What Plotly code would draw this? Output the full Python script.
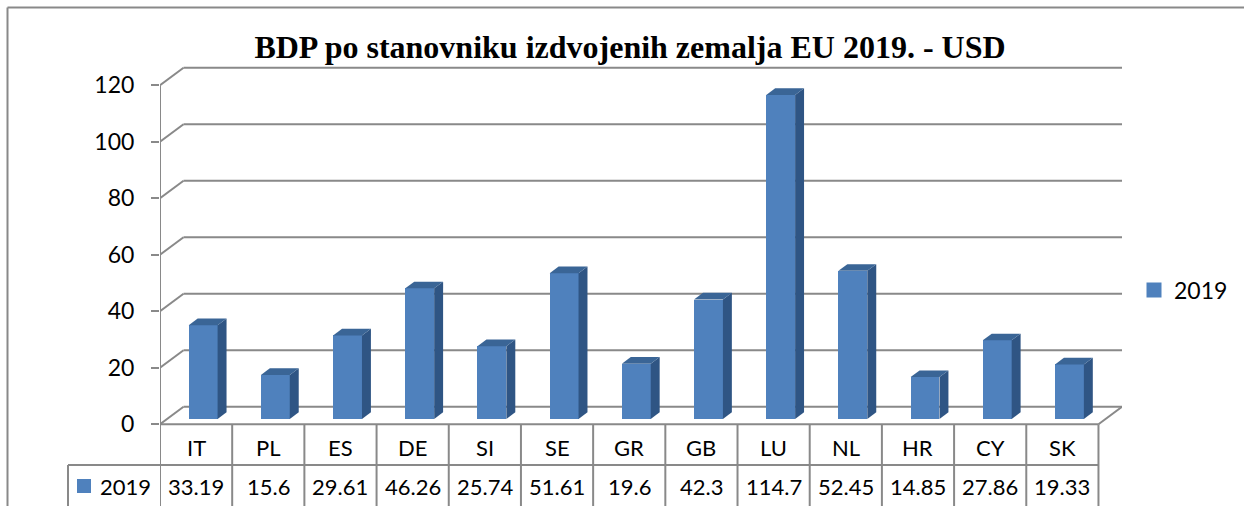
import plotly.graph_objects as go

# ---------------- data ----------------
title_text = "BDP po stanovniku izdvojenih zemalja EU 2019. - USD"
categories = ["IT", "PL", "ES", "DE", "SI", "SE", "GR", "GB", "LU", "NL", "HR", "CY", "SK"]
values_2019 = [33.19, 15.6, 29.61, 46.26, 25.74, 51.61, 19.6, 42.3, 114.7, 52.45, 14.85, 27.86, 19.33]
series_name = "2019"
y_ticks = [0, 20, 40, 60, 80, 100, 120]

# ---------------- geometry / style ----------------
W, H = 1244, 506
ML, MR, MT, MB = 160, 122, 60, 0
PW, PH = W - ML - MR, H - MT - MB
N = len(categories)
DX = 0.326          # depth of the 3D box (category units)
DY = 6.23           # depth of the 3D box (value units)
F0, F1 = 0.30, 0.68  # bar position inside depth
BAR_W = 0.40
XMIN, XMAX = -0.5, N - 0.5 + DX
YMIN, YMAX = -28.92, 128.96
ROW1 = -14.4        # separator between category row and value row

FRONT = "#4F81BD"
SIDE = "#2F5584"
TOP = "#3A6596"
GRID = "#898989"
FONT = "Lato"


def px_x(px):
    return (px - ML) / PW


def px_y(py):
    return (H - MB - py) / PH


def dx_to_paper(x):
    return (x - XMIN) / (XMAX - XMIN)


fig = go.Figure()

# front faces of the columns
fig.add_trace(go.Bar(
    x=[i + F0 * DX for i in range(N)],
    y=values_2019,
    base=F0 * DY,
    width=BAR_W,
    marker=dict(color=FRONT, line=dict(width=0)),
    showlegend=False,
    hoverinfo="skip",
))

# side and top faces
ddx = (F1 - F0) * DX
ddy = (F1 - F0) * DY
for i, v in enumerate(values_2019):
    xl = i + F0 * DX - BAR_W / 2
    xr = i + F0 * DX + BAR_W / 2
    b = F0 * DY
    t = b + v
    fig.add_trace(go.Scatter(
        x=[xr, xr + ddx, xr + ddx, xr, xr],
        y=[b, b + ddy, t + ddy, t, b],
        fill="toself", fillcolor=SIDE, mode="lines",
        line=dict(width=0, color=SIDE), showlegend=False, hoverinfo="skip"))
    fig.add_trace(go.Scatter(
        x=[xl, xl + ddx, xr + ddx, xr, xl],
        y=[t, t + ddy, t + ddy, t, t],
        fill="toself", fillcolor=TOP, mode="lines",
        line=dict(width=0, color=TOP), showlegend=False, hoverinfo="skip"))

# legend entry
fig.add_trace(go.Scatter(
    x=[None], y=[None], mode="markers", name=series_name,
    marker=dict(symbol="square", size=15, color=FRONT)))

shapes = []
ln = dict(color=GRID, width=2)
# back-wall gridlines + side-wall diagonals
for v in y_ticks:
    shapes.append(dict(type="line", xref="x", yref="y", x0=XMIN + DX, x1=N - 0.5 + DX,
                       y0=v + DY, y1=v + DY, line=ln, layer="below"))
    shapes.append(dict(type="line", xref="x", yref="y", x0=XMIN, x1=XMIN + DX,
                       y0=v, y1=v + DY, line=ln, layer="below"))
# floor right diagonal
shapes.append(dict(type="line", xref="x", yref="y", x0=N - 0.5, x1=N - 0.5 + DX,
                   y0=0, y1=DY, line=ln, layer="below"))
# front vertical axis line
shapes.append(dict(type="line", xref="x", yref="y", x0=XMIN, x1=XMIN,
                   y0=0, y1=y_ticks[-1], line=ln, layer="below"))
# data table
shapes.append(dict(type="line", xref="x", yref="y", x0=XMIN, x1=N - 0.5,
                   y0=0, y1=0, line=ln, layer="below"))
for k in range(N + 1):
    shapes.append(dict(type="line", xref="x", yref="y", x0=k - 0.5, x1=k - 0.5,
                       y0=0, y1=YMIN, line=ln, layer="below"))
row1_p = (ROW1 - YMIN) / (YMAX - YMIN)
shapes.append(dict(type="line", xref="paper", yref="paper", x0=px_x(68), x1=dx_to_paper(N - 0.5),
                   y0=row1_p, y1=row1_p, line=ln, layer="below"))
shapes.append(dict(type="line", xref="paper", yref="paper", x0=px_x(68), x1=px_x(68),
                   y0=row1_p, y1=0, line=ln, layer="below"))
# table legend key
shapes.append(dict(type="rect", xref="paper", yref="paper", x0=px_x(77), x1=px_x(91),
                   y0=px_y(493), y1=px_y(479), fillcolor=FRONT, line=dict(width=0)))
# outer chart border
shapes.append(dict(type="line", xref="paper", yref="paper", x0=px_x(7.5), x1=px_x(1260),
                   y0=px_y(7.5), y1=px_y(7.5), line=dict(color=GRID, width=2)))
shapes.append(dict(type="line", xref="paper", yref="paper", x0=px_x(7.5), x1=px_x(7.5),
                   y0=px_y(7.5), y1=px_y(520), line=dict(color=GRID, width=2)))

annotations = []
tf = dict(family=FONT, size=22, color="black")
for i, (c, v) in enumerate(zip(categories, values_2019)):
    annotations.append(dict(x=i, y=-8.2, xref="x", yref="y", text=c, showarrow=False,
                            font=tf, xanchor="center", yanchor="middle"))
    annotations.append(dict(x=i, y=-22.0, xref="x", yref="y", text=str(v), showarrow=False,
                            font=tf, xanchor="center", yanchor="middle"))
annotations.append(dict(x=px_x(98), y=px_y(486), xref="paper", yref="paper", text=series_name,
                        showarrow=False, font=tf, xanchor="left", yanchor="middle"))

fig.update_layout(
    width=W, height=H,
    margin=dict(l=ML, r=MR, t=MT, b=MB, pad=0),
    paper_bgcolor="white", plot_bgcolor="white",
    title=dict(text="<b>" + title_text + "</b>", x=630 / W, xanchor="center",
               y=1 - 47 / H, yanchor="middle",
               font=dict(family="Liberation Serif", size=32, color="black")),
    xaxis=dict(range=[XMIN, XMAX], visible=False, fixedrange=True),
    yaxis=dict(range=[YMIN, YMAX], tickvals=y_ticks, ticks="outside", ticklen=8, tickwidth=2,
               tickcolor=GRID, showgrid=False, zeroline=False, showline=False,
               tickfont=dict(family=FONT, size=23, color="black"), ticklabelstandoff=12,
               fixedrange=True),
    legend=dict(x=px_x(1134), y=px_y(290), xanchor="left", yanchor="middle",
                font=dict(family=FONT, size=23, color="black"), bgcolor="rgba(0,0,0,0)",
                itemsizing="trace"),
    shapes=shapes,
    annotations=annotations,
    bargap=0,
    hovermode=False,
)

fig.write_html("out.html",
               config={"displayModeBar": False},
               post_script="document.body.style.margin='0';document.body.style.overflow='hidden';")
